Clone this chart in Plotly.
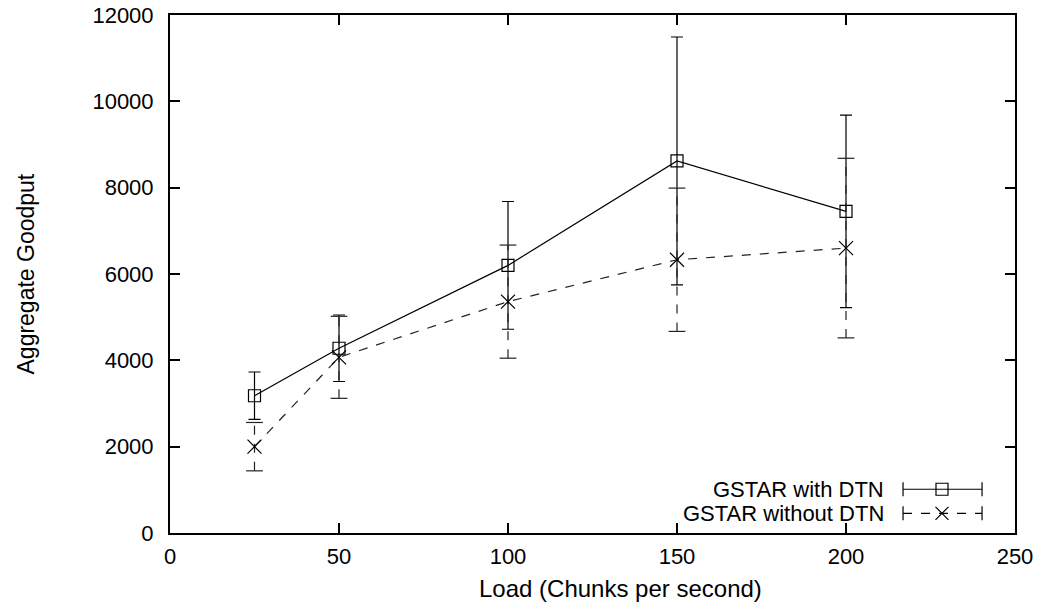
import plotly.graph_objects as go

# ---- data ----
load = [25, 50, 100, 150, 200]
with_dtn = [3180, 4280, 6200, 8620, 7450]
with_dtn_err = [550, 770, 1480, 2870, 2230]
without_dtn = [2000, 4070, 5360, 6330, 6600]
without_dtn_err = [560, 950, 1310, 1660, 2080]
series_names = ["GSTAR with DTN", "GSTAR without DTN"]
x_ticks = [0, 50, 100, 150, 200, 250]
y_ticks = [0, 2000, 4000, 6000, 8000, 10000, 12000]
x_title = "Load (Chunks per second)"
y_title = "Aggregate Goodput"

FONT = "Liberation Sans, Arial, sans-serif"
fig = go.Figure()

# series 1: solid line with squares and solid error bars
fig.add_trace(go.Scatter(
    x=load, y=with_dtn, mode="lines+markers", name=series_names[0],
    line=dict(color="black", width=1.2),
    marker=dict(symbol="square-open", size=12, color="black", line=dict(width=1.2)),
    error_y=dict(type="data", array=with_dtn_err, visible=True,
                 color="black", thickness=1.2, width=6),
    showlegend=False,
))

# series 2: dashed error bars built from data
ex, ey, cx, cy = [], [], [], []
for xv, yv, ev in zip(load, without_dtn, without_dtn_err):
    ex += [xv, xv, None]
    ey += [yv - ev, yv + ev, None]
    cx += [xv, xv]
    cy += [yv - ev, yv + ev]
fig.add_trace(go.Scatter(x=ex, y=ey, mode="lines",
                         line=dict(color="#222", width=1.2, dash="dash"),
                         showlegend=False, hoverinfo="skip"))
fig.add_trace(go.Scatter(x=cx, y=cy, mode="markers",
                         marker=dict(symbol="line-ew-open", size=12, color="#222",
                                     line=dict(color="#222", width=1.2)),
                         showlegend=False, hoverinfo="skip"))
fig.add_trace(go.Scatter(
    x=load, y=without_dtn, mode="lines+markers", name=series_names[1],
    line=dict(color="#222", width=1.2, dash="dash"),
    marker=dict(symbol="x-thin-open", size=14, color="black", line=dict(width=1.2, color="black")),
    showlegend=False,
))

# ---- custom legend (key on overlay axes 0..1) ----
key_x0, key_x1, key_xm = 0.8675, 0.961, 0.9136
rows = [0.0845, 0.038]
styles = [
    dict(dash="solid", symbol="square-open", size=12),
    dict(dash="dash", symbol="x-thin-open", size=13),
]
for name, ry, st in zip(series_names, rows, styles):
    fig.add_trace(go.Scatter(x=[key_x0, key_x1], y=[ry, ry], mode="lines",
                             line=dict(color="black", width=1.2, dash=st["dash"]),
                             xaxis="x2", yaxis="y2", showlegend=False, hoverinfo="skip"))
    fig.add_trace(go.Scatter(x=[key_x0, key_x1], y=[ry, ry], mode="markers",
                             marker=dict(symbol="line-ns-open", size=10, color="black",
                                         line=dict(color="black", width=1.2)),
                             xaxis="x2", yaxis="y2", showlegend=False, hoverinfo="skip"))
    fig.add_trace(go.Scatter(x=[key_xm], y=[ry], mode="markers",
                             marker=dict(symbol=st["symbol"], size=st["size"], color="black",
                                         line=dict(width=1.2, color="black")),
                             xaxis="x2", yaxis="y2", showlegend=False, hoverinfo="skip"))
    fig.add_annotation(x=0.847, y=ry, xref="paper", yref="paper", text=name,
                       showarrow=False, xanchor="right", yanchor="middle",
                       font=dict(family=FONT, size=22, color="black"))

axis_common = dict(showgrid=False, zeroline=False, showline=True, linecolor="black",
                   linewidth=2, mirror="ticks", ticks="inside", ticklen=10,
                   tickwidth=1.5, tickcolor="black", automargin=False,
                   tickfont=dict(family=FONT, size=22, color="black"))
fig.update_layout(
    width=1059, height=603,
    margin=dict(l=170, r=44, t=15, b=70),
    paper_bgcolor="white", plot_bgcolor="white",
    xaxis=dict(range=[0, 250], tickvals=x_ticks, ticklabelstandoff=3, **axis_common),
    yaxis=dict(range=[0, 12000], tickvals=y_ticks, tickformat="d", ticklabelstandoff=10, **axis_common),
    xaxis2=dict(range=[0, 1], overlaying="x", visible=False),
    yaxis2=dict(range=[0, 1], overlaying="y", visible=False),
    showlegend=False,
)
fig.add_annotation(x=(620 - 170) / 845, y=-0.107, xref="paper", yref="paper", text=x_title,
                   showarrow=False, xanchor="center", yanchor="middle",
                   font=dict(family=FONT, size=24, color="black"))
fig.add_annotation(x=-0.171, y=0.5, xref="paper", yref="paper", text=y_title,
                   showarrow=False, xanchor="center", yanchor="middle", textangle=-90,
                   font=dict(family=FONT, size=23, color="black"))

fig.write_html("out.html")
